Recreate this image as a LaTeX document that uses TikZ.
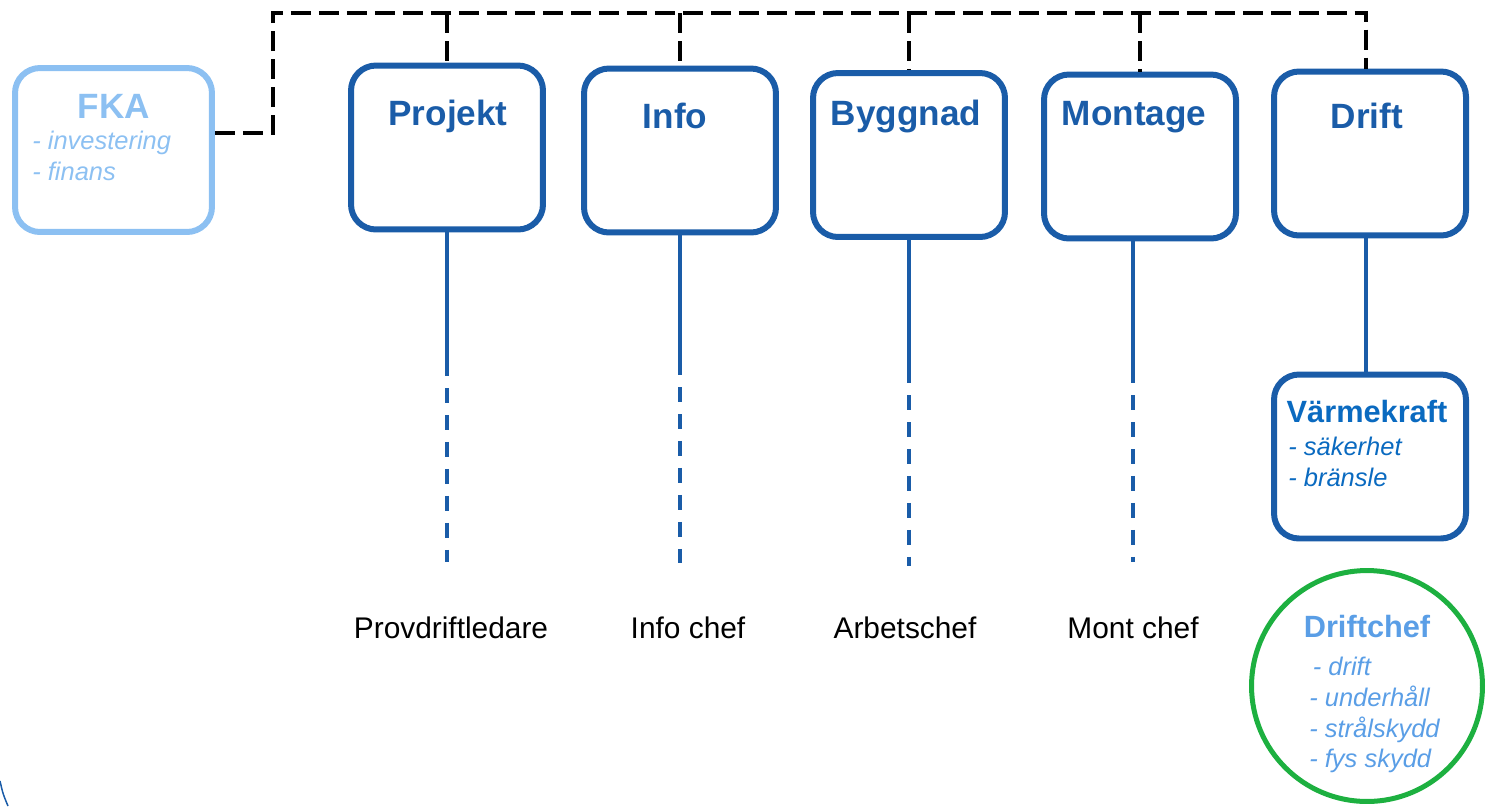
\documentclass[tikz,border=0pt]{standalone}
\usepackage{fontspec}
\setmainfont{Liberation Sans}

\definecolor{unitblue}{HTML}{1A5CA8}
\definecolor{fkablue}{HTML}{8CC0F2}
\definecolor{vkblue}{HTML}{0A6AC0}
\definecolor{chefblue}{HTML}{5A9EE6}
\definecolor{chefgreen}{HTML}{1DB040}

\tikzset{
  unitbox/.style={draw=unitblue, line width=0.12cm, rounded corners=0.5cm,
    minimum width=3.84cm, minimum height=3.28cm, inner sep=0pt},
  unittitle/.style={text=unitblue, font=\bfseries\fontsize{20}{24}\selectfont, inner sep=0pt, anchor=base},
  duties/.style={font=\itshape\fontsize{14.5}{17.6}\selectfont, align=left, inner sep=0pt, anchor=west},
  rolename/.style={font=\fontsize{17}{20}\selectfont, inner sep=0pt},
  orgline/.style={black, line width=0.07cm, dash pattern=on 0.4cm off 0.16cm},
  unitline/.style={unitblue, line width=0.08cm},
  roleline/.style={unitline, dash pattern=on 0.3cm off 0.24cm},
}

\begin{document}
\begin{tikzpicture}[x=0.02cm, y=-0.02cm]
\useasboundingbox (0,0) rectangle (1486,806);

% FKA
\node[unitbox, draw=fkablue, minimum width=3.94cm] (fka) at (113.5,150) {};
\node[unittitle, text=fkablue] (fkatitle) at (114,118) {FKA};
\node[duties, text=fkablue] (fkaduties) at (32,156) {- investering\\- finans};

% units
\node[unitbox] (projekt) at (447,147.5) {};
\node[unittitle] (projekttitle) at (448,125) {Projekt};
\node[unitbox] (info) at (680,150.5) {};
\node[unittitle] (infotitle) at (675,128) {Info};
\node[unitbox] (byggnad) at (909,155) {};
\node[unittitle] (byggnadtitle) at (906,125) {Byggnad};
\node[unitbox] (montage) at (1140,156.5) {};
\node[unittitle] (montagetitle) at (1134,125) {Montage};
\node[unitbox] (drift) at (1370,153.5) {};
\node[unittitle] (drifttitle) at (1367,128) {Drift};

% Varmekraft
\node[unitbox] (vk) at (1370,456.5) {};
\node[unittitle, text=vkblue, font=\bfseries\fontsize{17.5}{21}\selectfont] (vktitle) at (1367,422) {Värmekraft};
\node[duties, text=vkblue] (vkduties) at (1288,462) {- säkerhet\\- bränsle};

% Driftchef
\node[circle, draw=chefgreen, line width=0.1cm, minimum size=4.62cm, inner sep=0pt] (chef) at (1367,686) {};
\node[unittitle, text=chefblue, font=\bfseries\fontsize{17.5}{21}\selectfont] (cheftitle) at (1367,637) {Driftchef};
\node[duties, text=chefblue] (chefduties) at (1309,715) {\hspace{2pt}- drift\\- underhåll\\- strålskydd\\- fys skydd};

% dashed top line
\coordinate (tl) at (273,13);
\coordinate (tr) at (1366,13);
\draw[orgline] ([yshift=0.34cm]fka.east) -| (tl) -- (tr) -- (tr |- drift.north);
\draw[orgline] (projekt.north |- tl) -- (projekt.north);
\draw[orgline] (info.north |- tl) -- (info.north);
\draw[orgline] (byggnad.north |- tl) -- (byggnad.north);
\draw[orgline] (montage.north |- tl) -- (montage.north);

% lines down to the roles
\coordinate (pjsplit) at (447,361);
\coordinate (pjend) at (447,562);
\draw[unitline] (projekt.south) -- (pjsplit);
\draw[roleline] (pjsplit) -- (pjend);

\coordinate (insplit) at (680,360);
\coordinate (inend) at (680,563);
\draw[unitline] (info.south) -- (insplit);
\draw[roleline] (insplit) -- (inend);

\coordinate (bysplit) at (909,368);
\coordinate (byend) at (909,566);
\draw[unitline] (byggnad.south) -- (bysplit);
\draw[roleline] (bysplit) -- (byend);

\coordinate (mosplit) at (1133,368);
\coordinate (moend) at (1133,562);
\draw[unitline] (mosplit |- montage.south) -- (mosplit);
\draw[roleline] (mosplit) -- (moend);

\draw[unitline] (tr |- drift.south) -- (tr |- vk.north);

% roles
\node[rolename] (provdrift) at (451,628) {Provdriftledare};
\node[rolename] (infochef) at (688,628) {Info chef};
\node[rolename] (arbetschef) at (905,628) {Arbetschef};
\node[rolename] (montchef) at (1133,628) {Mont chef};

% edge of the slide
\draw[unitblue, line width=0.03cm] (0,781) .. controls (3,794) .. (8,806);

\end{tikzpicture}
\end{document}
